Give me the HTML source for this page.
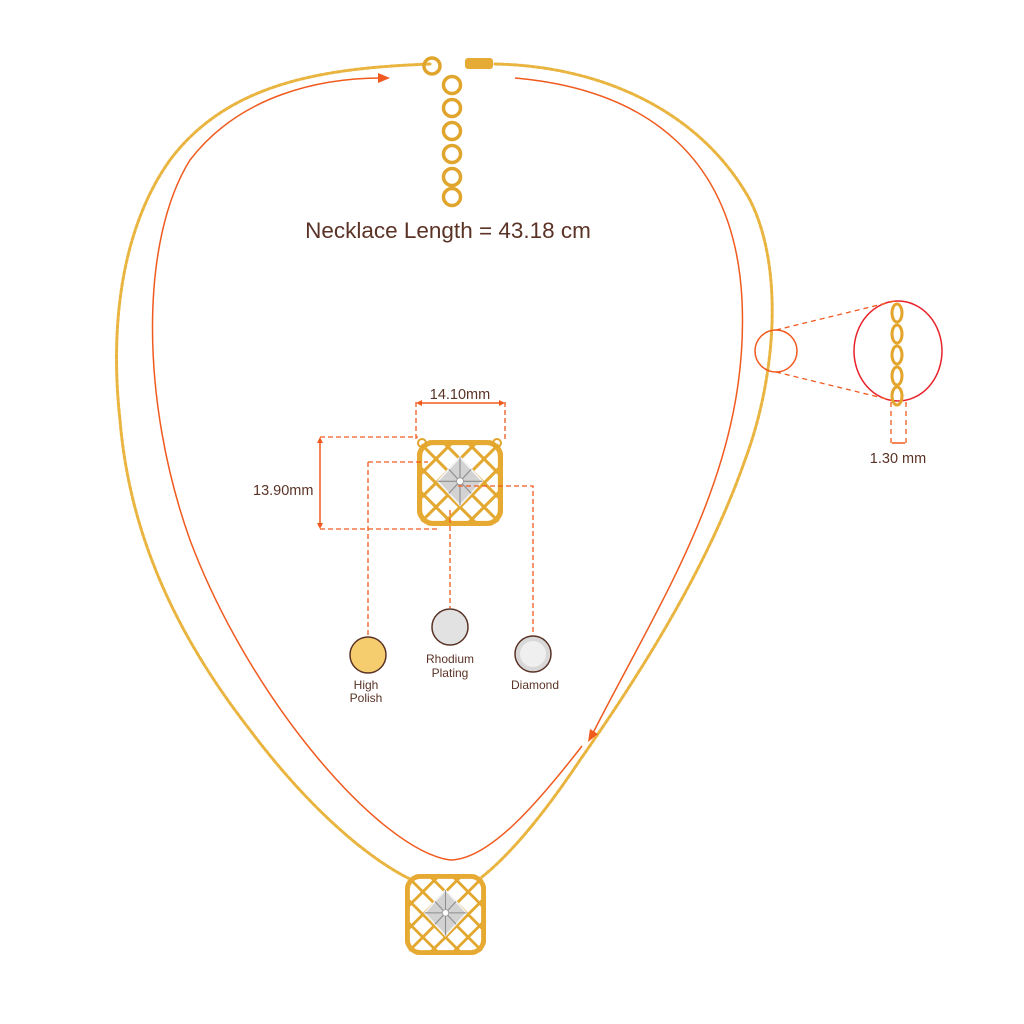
<!DOCTYPE html>
<html><head><style>
html,body{margin:0;padding:0;background:#fff;width:1024px;height:1024px;overflow:hidden}
svg{display:block}
text{font-family:"Liberation Sans",sans-serif;fill:#5a3326}
</style></head><body>
<svg width="1024" height="1024" viewBox="0 0 1024 1024" xmlns="http://www.w3.org/2000/svg">
<defs>
 <clipPath id="pc"><rect x="0" y="0" width="100" height="100" rx="18"/></clipPath>
 <g id="pend">
  <rect x="0" y="0" width="100" height="100" rx="18" fill="#fff"/>
  <g clip-path="url(#pc)" stroke="#e3a830" stroke-width="3.5">
   <path d="M-112 0 L-12 100 M-84 0 L16 100 M-56 0 L44 100 M-28 0 L72 100 M0 0 L100 100 M28 0 L128 100 M56 0 L156 100 M84 0 L184 100"/>
   <path d="M16 0 L-84 100 M44 0 L-56 100 M72 0 L-28 100 M100 0 L0 100 M128 0 L28 100 M156 0 L56 100 M184 0 L84 100"/>
  </g>
  <rect x="3" y="3" width="94" height="94" rx="16" fill="none" stroke="#e6a931" stroke-width="6"/>
  <path d="M50 20 L76 48 L50 76 L24 48 Z" fill="#d2d2d2" stroke="#f4f4f4" stroke-width="2"/>
  <path d="M50 20 L50 76 M24 48 L76 48 M37 34 L63 62 M63 34 L37 62" stroke="#8d8d8d" stroke-width="1.3"/>
  <circle cx="50" cy="48" r="4" fill="#fff" stroke="#999"/>
 </g>
</defs>

<g fill="none" stroke-linecap="round">
 <path d="M430 64 C330 68 230 80 170 160 C120 230 110 330 120 420 C130 540 180 640 250 730 C310 810 370 860 412 880" stroke="#e9b540" stroke-width="3" stroke-dasharray="4 2"/>
 <path d="M495 64 C600 66 700 110 750 200 C785 270 775 380 745 460 C710 560 650 660 580 760 C540 820 505 860 478 880" stroke="#e9b540" stroke-width="3" stroke-dasharray="4 2"/>
</g>
<circle cx="432" cy="66" r="8" fill="none" stroke="#e0a52c" stroke-width="3.5"/>
<rect x="465" y="58" width="28" height="11" rx="3" fill="#e6ab35"/>
<g fill="none" stroke="#e0a52c" stroke-width="3.5">
 <circle cx="452" cy="85" r="8.5"/><circle cx="452" cy="108" r="8.5"/><circle cx="452" cy="131" r="8.5"/>
 <circle cx="452" cy="154" r="8.5"/><circle cx="452" cy="177" r="8.5"/><circle cx="452" cy="197" r="8.5"/>
</g>

<g fill="none" stroke="#f05a1e" stroke-width="1.5">
 <path d="M515 78 C650 90 735 160 742 300 C750 470 660 600 592 735"/>
 <path d="M582 746 C540 800 490 860 450 860 C380 850 250 700 190 540 C140 400 140 240 190 160 C240 95 320 78 382 78"/>
</g>
<path d="M390 78 L378 73 L378 83 Z" fill="#f05a1e"/>
<path d="M588 742 L590 729 L598 734 Z" fill="#f05a1e"/>

<text x="448" y="238" font-size="22.5" text-anchor="middle">Necklace Length = 43.18 cm</text>

<circle cx="776" cy="351" r="21" fill="none" stroke="#f05a1e" stroke-width="1.5"/>
<ellipse cx="898" cy="351" rx="44" ry="50" fill="none" stroke="#e8222a" stroke-width="1.5"/>
<g stroke="#f05a1e" stroke-width="1.3" stroke-dasharray="5 4" fill="none">
 <path d="M776 330 L895 301"/><path d="M776 372 L895 401"/>
 <path d="M891 402 L891 445"/><path d="M906 402 L906 445"/>
</g>
<g fill="none" stroke="#e3a52c" stroke-width="3">
 <ellipse cx="897" cy="313" rx="5" ry="9"/><ellipse cx="897" cy="334" rx="5" ry="9"/>
 <ellipse cx="897" cy="355" rx="5" ry="9"/><ellipse cx="897" cy="376" rx="5" ry="9"/>
 <ellipse cx="897" cy="396" rx="5" ry="9"/>
</g>
<path d="M892 443 L905 443" stroke="#f05a1e" stroke-width="1.5"/>
<text x="898" y="463" font-size="14.5" text-anchor="middle">1.30 mm</text>

<g transform="translate(417,440) scale(0.86,0.86)"><use href="#pend"/></g>
<circle cx="422" cy="443" r="4" fill="none" stroke="#e0a52c" stroke-width="2"/>
<circle cx="497" cy="443" r="4" fill="none" stroke="#e0a52c" stroke-width="2"/>
<g stroke="#f05a1e" stroke-width="1.3" stroke-dasharray="5 3" fill="none">
 <path d="M416 402 L416 440"/><path d="M505 402 L505 440"/>
 <path d="M320 437 L418 437"/><path d="M320 529 L437 529"/>
 <path d="M368 462 L428 462 M368 462 L368 635"/>
 <path d="M450 510 L450 608"/>
 <path d="M458 486 L533 486 L533 635"/>
</g>
<g stroke="#f05a1e" stroke-width="1.5"><path d="M418 403 L503 403"/><path d="M320 439 L320 527"/></g>
<path d="M416 403 L422 400 L422 406 Z M505 403 L499 400 L499 406 Z M320 437 L317 443 L323 443 Z M320 529 L317 523 L323 523 Z" fill="#f05a1e"/>
<text x="460" y="399" font-size="14.5" text-anchor="middle">14.10mm</text>
<text x="253" y="495" font-size="14.5">13.90mm</text>

<circle cx="368" cy="655" r="18" fill="#f5cd6e" stroke="#5a3326" stroke-width="1.5"/>
<circle cx="450" cy="627" r="18" fill="#e2e2e2" stroke="#5a3326" stroke-width="1.5"/>
<circle cx="533" cy="654" r="18" fill="#d8d8d8" stroke="#5a3326" stroke-width="1.5"/>
<circle cx="533" cy="654" r="13" fill="#efefef"/>
<text x="366" y="689" font-size="12" text-anchor="middle">High</text>
<text x="366" y="702" font-size="12" text-anchor="middle">Polish</text>
<text x="450" y="663" font-size="12" text-anchor="middle">Rhodium</text>
<text x="450" y="677" font-size="12" text-anchor="middle">Plating</text>
<text x="535" y="689" font-size="12" text-anchor="middle">Diamond</text>

<g transform="translate(405,874) scale(0.81,0.81)"><use href="#pend"/></g>
</svg>
</body></html>
